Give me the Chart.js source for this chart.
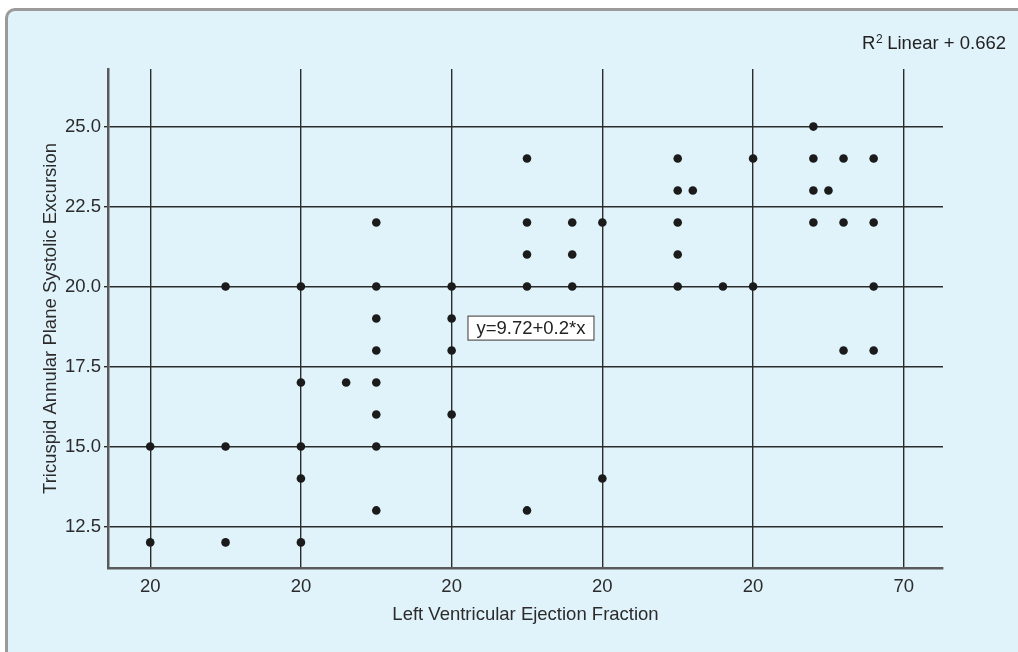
<!DOCTYPE html>
<html>
<head>
<meta charset="utf-8">
<script src="https://cdn.jsdelivr.net/npm/chart.js@4"></script>
<style>
    body { margin: 0; background: #fff; overflow: hidden; }
    #frame {
        position: absolute; left: 5px; top: 8px; width: 1040px; height: 680px;
        background: #e0f3fa; border-left: 3px solid #9a9a9a; border-top: 3px solid #9a9a9a;
        border-top-left-radius: 10px;
    }
    #wrap { position: absolute; left: 0; top: 0; width: 1018px; height: 652px; }
</style>
</head>
<body>
<div id="frame"></div>
<div id="wrap"><canvas id="scatterChart" width="1018" height="652"></canvas></div>
<script>
// LVEF (x) vs TAPSE (y)
const lvef = [20, 20, 25, 25, 25, 30, 30, 30, 30, 30, 33,
    35, 35, 35, 35, 35, 35, 35, 35, 40, 40, 40, 40,
    45, 45, 45, 45, 45, 48, 48, 48, 50, 50,
    55, 55, 55, 55, 55, 56, 58, 60, 60,
    64, 64, 64, 64, 65, 66, 66, 66, 68, 68, 68, 68];
const tapse = [15, 12, 20, 15, 12, 20, 17, 15, 14, 12, 17,
    22, 20, 19, 18, 17, 16, 15, 13, 20, 19, 18, 16,
    24, 22, 21, 20, 13, 22, 21, 20, 22, 14,
    24, 23, 22, 21, 20, 23, 20, 24, 20,
    25, 24, 23, 22, 23, 24, 22, 18, 24, 22, 20, 18];

const xTicks = [20, 30, 40, 50, 60, 70];
const xTickLabels = ['20', '20', '20', '20', '20', '70'];
const yTicks = [12.5, 15, 17.5, 20, 22.5, 25];

const fitLabel = 'y=9.72+0.2*x';
const r2Value = '0.662';

const FONT = '"Liberation Sans", Arial, sans-serif';
const points = lvef.map((x, i) => ({ x: x, y: tapse[i] }));

// text overlays: regression label box and R² note
const overlayPlugin = {
    id: 'overlay',
    afterDraw(chart) {
        const ctx = chart.ctx;
        const xs = chart.scales.x, ys = chart.scales.y;
        ctx.save();

        // fit equation box
        ctx.font = '18.5px ' + FONT;
        const bx = xs.getPixelForValue(41.05);
        const by = ys.getPixelForValue(18.7);
        const bw = 127, bh = 25;
        ctx.fillStyle = '#ffffff';
        ctx.fillRect(bx, by - bh / 2, bw, bh);
        ctx.strokeStyle = '#333';
        ctx.lineWidth = 1;
        ctx.strokeRect(bx + 0.5, by - bh / 2 + 0.5, bw - 1, bh - 1);
        ctx.fillStyle = '#222';
        ctx.textAlign = 'center';
        ctx.textBaseline = 'middle';
        ctx.fillText(fitLabel, bx + bw / 2, by + 1);

        // R² Linear note, right aligned
        const rest = ' Linear + ' + r2Value;
        ctx.textBaseline = 'alphabetic';
        ctx.textAlign = 'left';
        ctx.font = '18.5px ' + FONT;
        const wRest = ctx.measureText(rest).width;
        const wR = ctx.measureText('R').width;
        ctx.font = '12px ' + FONT;
        const w2 = ctx.measureText('2').width;
        const right = 1006, base = 49;
        let x0 = right - wRest - w2 - wR;
        ctx.font = '18.5px ' + FONT;
        ctx.fillText('R', x0, base);
        ctx.font = '12px ' + FONT;
        ctx.fillText('2', x0 + wR + 0.5, base - 6.5);
        ctx.font = '18.5px ' + FONT;
        ctx.fillText(rest, x0 + wR + w2, base);
        ctx.restore();
    }
};

const ctx = document.getElementById('scatterChart').getContext('2d');
new Chart(ctx, {
    type: 'scatter',
    data: {
        datasets: [{
            data: points,
            backgroundColor: '#1b1b1b',
            borderColor: '#1b1b1b',
            pointRadius: 4.3,
            pointHoverRadius: 4.3,
            borderWidth: 0
        }]
    },
    options: {
        responsive: false,
        animation: false,
        layout: { padding: { left: 0, right: 75, top: 69, bottom: 0 } },
        plugins: {
            legend: { display: false },
            tooltip: { enabled: false }
        },
        scales: {
            x: {
                type: 'linear',
                min: 17.2,
                max: 72.6,
                afterBuildTicks: (axis) => { axis.ticks = xTicks.map(v => ({ value: v })); },
                afterFit: (axis) => { axis.height = 84; },
                grid: { color: '#2b2b2b', lineWidth: 1.4, drawTicks: false },
                border: { color: '#5a5a5a', width: 2.5 },
                ticks: {
                    color: '#2b2b2b',
                    padding: 8,
                    maxRotation: 0,
                    autoSkip: false,
                    font: { family: FONT, size: 18.5 },
                    callback: (value, index) => xTickLabels[index]
                },
                title: {
                    display: true,
                    text: 'Left Ventricular Ejection Fraction',
                    color: '#2b2b2b',
                    padding: { top: 4, bottom: 26 },
                    font: { family: FONT, size: 18.5 }
                }
            },
            y: {
                type: 'linear',
                min: 11.2,
                max: 26.8,
                afterBuildTicks: (axis) => { axis.ticks = yTicks.map(v => ({ value: v })); },
                afterFit: (axis) => { axis.width = 108; },
                grid: { color: '#2b2b2b', lineWidth: 1.4, tickLength: 4 },
                border: { color: '#5a5a5a', width: 2.5 },
                ticks: {
                    color: '#2b2b2b',
                    padding: 3,
                    font: { family: FONT, size: 18.5 },
                    callback: (value) => value.toFixed(1)
                },
                title: {
                    display: true,
                    text: 'Tricuspid Annular Plane Systolic Excursion',
                    color: '#2b2b2b',
                    padding: { top: 40 },
                    font: { family: FONT, size: 18.5 }
                }
            }
        }
    },
    plugins: [overlayPlugin]
});
</script>
</body>
</html>
